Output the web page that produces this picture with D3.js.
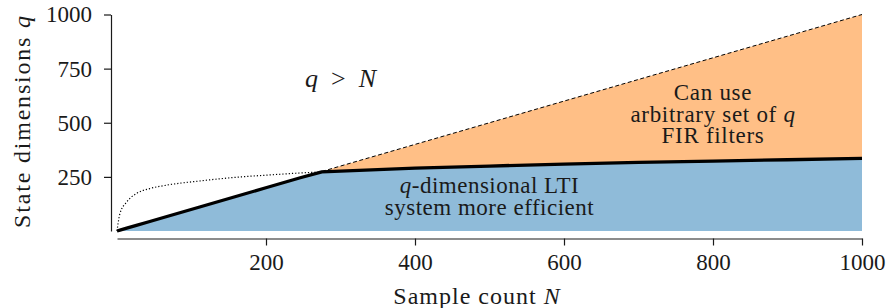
<!DOCTYPE html>
<html>
<head>
<meta charset="utf-8">
<script src="https://cdn.jsdelivr.net/npm/d3@7"></script>
</head>
<body style="margin:0;background:#fff">
<svg id="chart" width="889" height="308"></svg>
<script>
var sampleN = [0, 4, 13, 26, 44, 67, 111, 156, 201, 246, 275, 400, 500, 600, 700, 800, 900, 1000];
// state dimensions q of the LTI cost curve (dotted part below the break, thick part after)
var curveQ = [0, 81, 134, 173, 196, 212, 231, 247, 258, 268, 273, 290, 300, 309, 317, 323, 329, 335];
var breakN = 275;
var xTicks = [200, 400, 600, 800, 1000];
var yTicks = [250, 500, 750, 1000];

var FONT = "Liberation Serif";
var INK = "#1a1a1a";

var svg = d3.select("#chart");

var x = d3.scaleLinear().domain([0, 1000]).range([117, 862]);
var y = d3.scaleLinear().domain([0, 1000]).range([231, 14.5]);

var pts = sampleN.map(function(n, i){ return {n: n, f: curveQ[i], lo: Math.min(n, curveQ[i])}; });
var upper = pts.filter(function(d){ return d.n >= breakN; });
var lower = pts.filter(function(d){ return d.n <= breakN; });

// blue region below the thick line
svg.append("path")
    .datum(pts)
    .attr("fill", "#8fbbd9")
    .attr("d", d3.area().x(function(d){ return x(d.n); }).y0(y(0)).y1(function(d){ return y(d.lo); }));

// orange region between thick line and q = N
svg.append("path")
    .datum(upper)
    .attr("fill", "#ffbf86")
    .attr("d", d3.area().x(function(d){ return x(d.n); }).y0(function(d){ return y(d.f); }).y1(function(d){ return y(d.n); }));

// dashed q = N
svg.append("path")
    .datum(upper)
    .attr("fill", "none")
    .attr("stroke", "#000")
    .attr("stroke-width", 1)
    .attr("stroke-dasharray", "4,2.5")
    .attr("d", d3.line().x(function(d){ return x(d.n); }).y(function(d){ return y(d.n); }));

// dotted curve before the break
svg.append("path")
    .datum(lower)
    .attr("fill", "none")
    .attr("stroke", "#000")
    .attr("stroke-width", 1.2)
    .attr("stroke-dasharray", "1.2,2")
    .attr("d", d3.line().curve(d3.curveMonotoneX).x(function(d){ return x(d.n); }).y(function(d){ return y(d.f); }));

// thick min(N, q) line
svg.append("path")
    .datum(pts)
    .attr("fill", "none")
    .attr("stroke", "#000")
    .attr("stroke-width", 3.3)
    .attr("stroke-linejoin", "round")
    .attr("d", d3.line().x(function(d){ return x(d.n); }).y(function(d){ return y(d.lo); }));

// axes
function styleAxis(g) {
    g.attr("font-family", FONT).attr("font-size", 23);
    g.selectAll("path, line").attr("stroke", INK).attr("stroke-width", 1.2);
    g.selectAll("text").attr("fill", INK);
}

svg.append("g")
    .attr("transform", "translate(0,238.5)")
    .call(d3.axisBottom(x).tickValues(xTicks).tickFormat(d3.format("d")).tickSizeInner(7).tickSizeOuter(0).tickPadding(8))
    .call(styleAxis);

svg.append("g")
    .attr("transform", "translate(111,0)")
    .call(d3.axisLeft(y).tickValues(yTicks).tickFormat(d3.format("d")).tickSizeInner(7).tickSizeOuter(0).tickPadding(12))
    .call(styleAxis);

// one line of text; pieces flagged 1 are italic
function richText(px, py, size, spacing, parts) {
    var t = svg.append("text").attr("x", px).attr("y", py)
        .attr("text-anchor", "middle").attr("fill", INK)
        .attr("font-family", FONT).attr("font-size", size)
        .attr("letter-spacing", spacing);
    if (parts.length === 1 && !parts[0][1]) {
        t.text(parts[0][0]);
    } else {
        parts.forEach(function(p){
            t.append("tspan").attr("font-style", p[1] ? "italic" : null).text(p[0]);
        });
    }
    return t;
}

// axis labels
richText(477, 304, 24, 1, [["Sample count ", 0], ["N", 1]]);
richText(0, 0, 24, 1.8, [["State dimensions ", 0], ["q", 1]])
    .attr("x", null).attr("y", null)
    .attr("transform", "translate(30,121) rotate(-90)");

// annotations
richText(x(300), y(700) + 8, 26, 0, [["q", 1], ["\u2002>\u2002", 0], ["N", 1]]);

richText(x(800), 100, 23, 0.7, [["Can use", 0]]);
richText(x(800), 121.5, 23, 0.7, [["arbitrary set of ", 0], ["q", 1]]);
richText(x(800), 143, 23, 0.7, [["FIR filters", 0]]);

richText(x(500), 193, 23, 0.5, [["q", 1], ["-dimensional LTI", 0]]);
richText(x(500), 215, 23, 0.5, [["system more efficient", 0]]);
</script>
</body>
</html>
